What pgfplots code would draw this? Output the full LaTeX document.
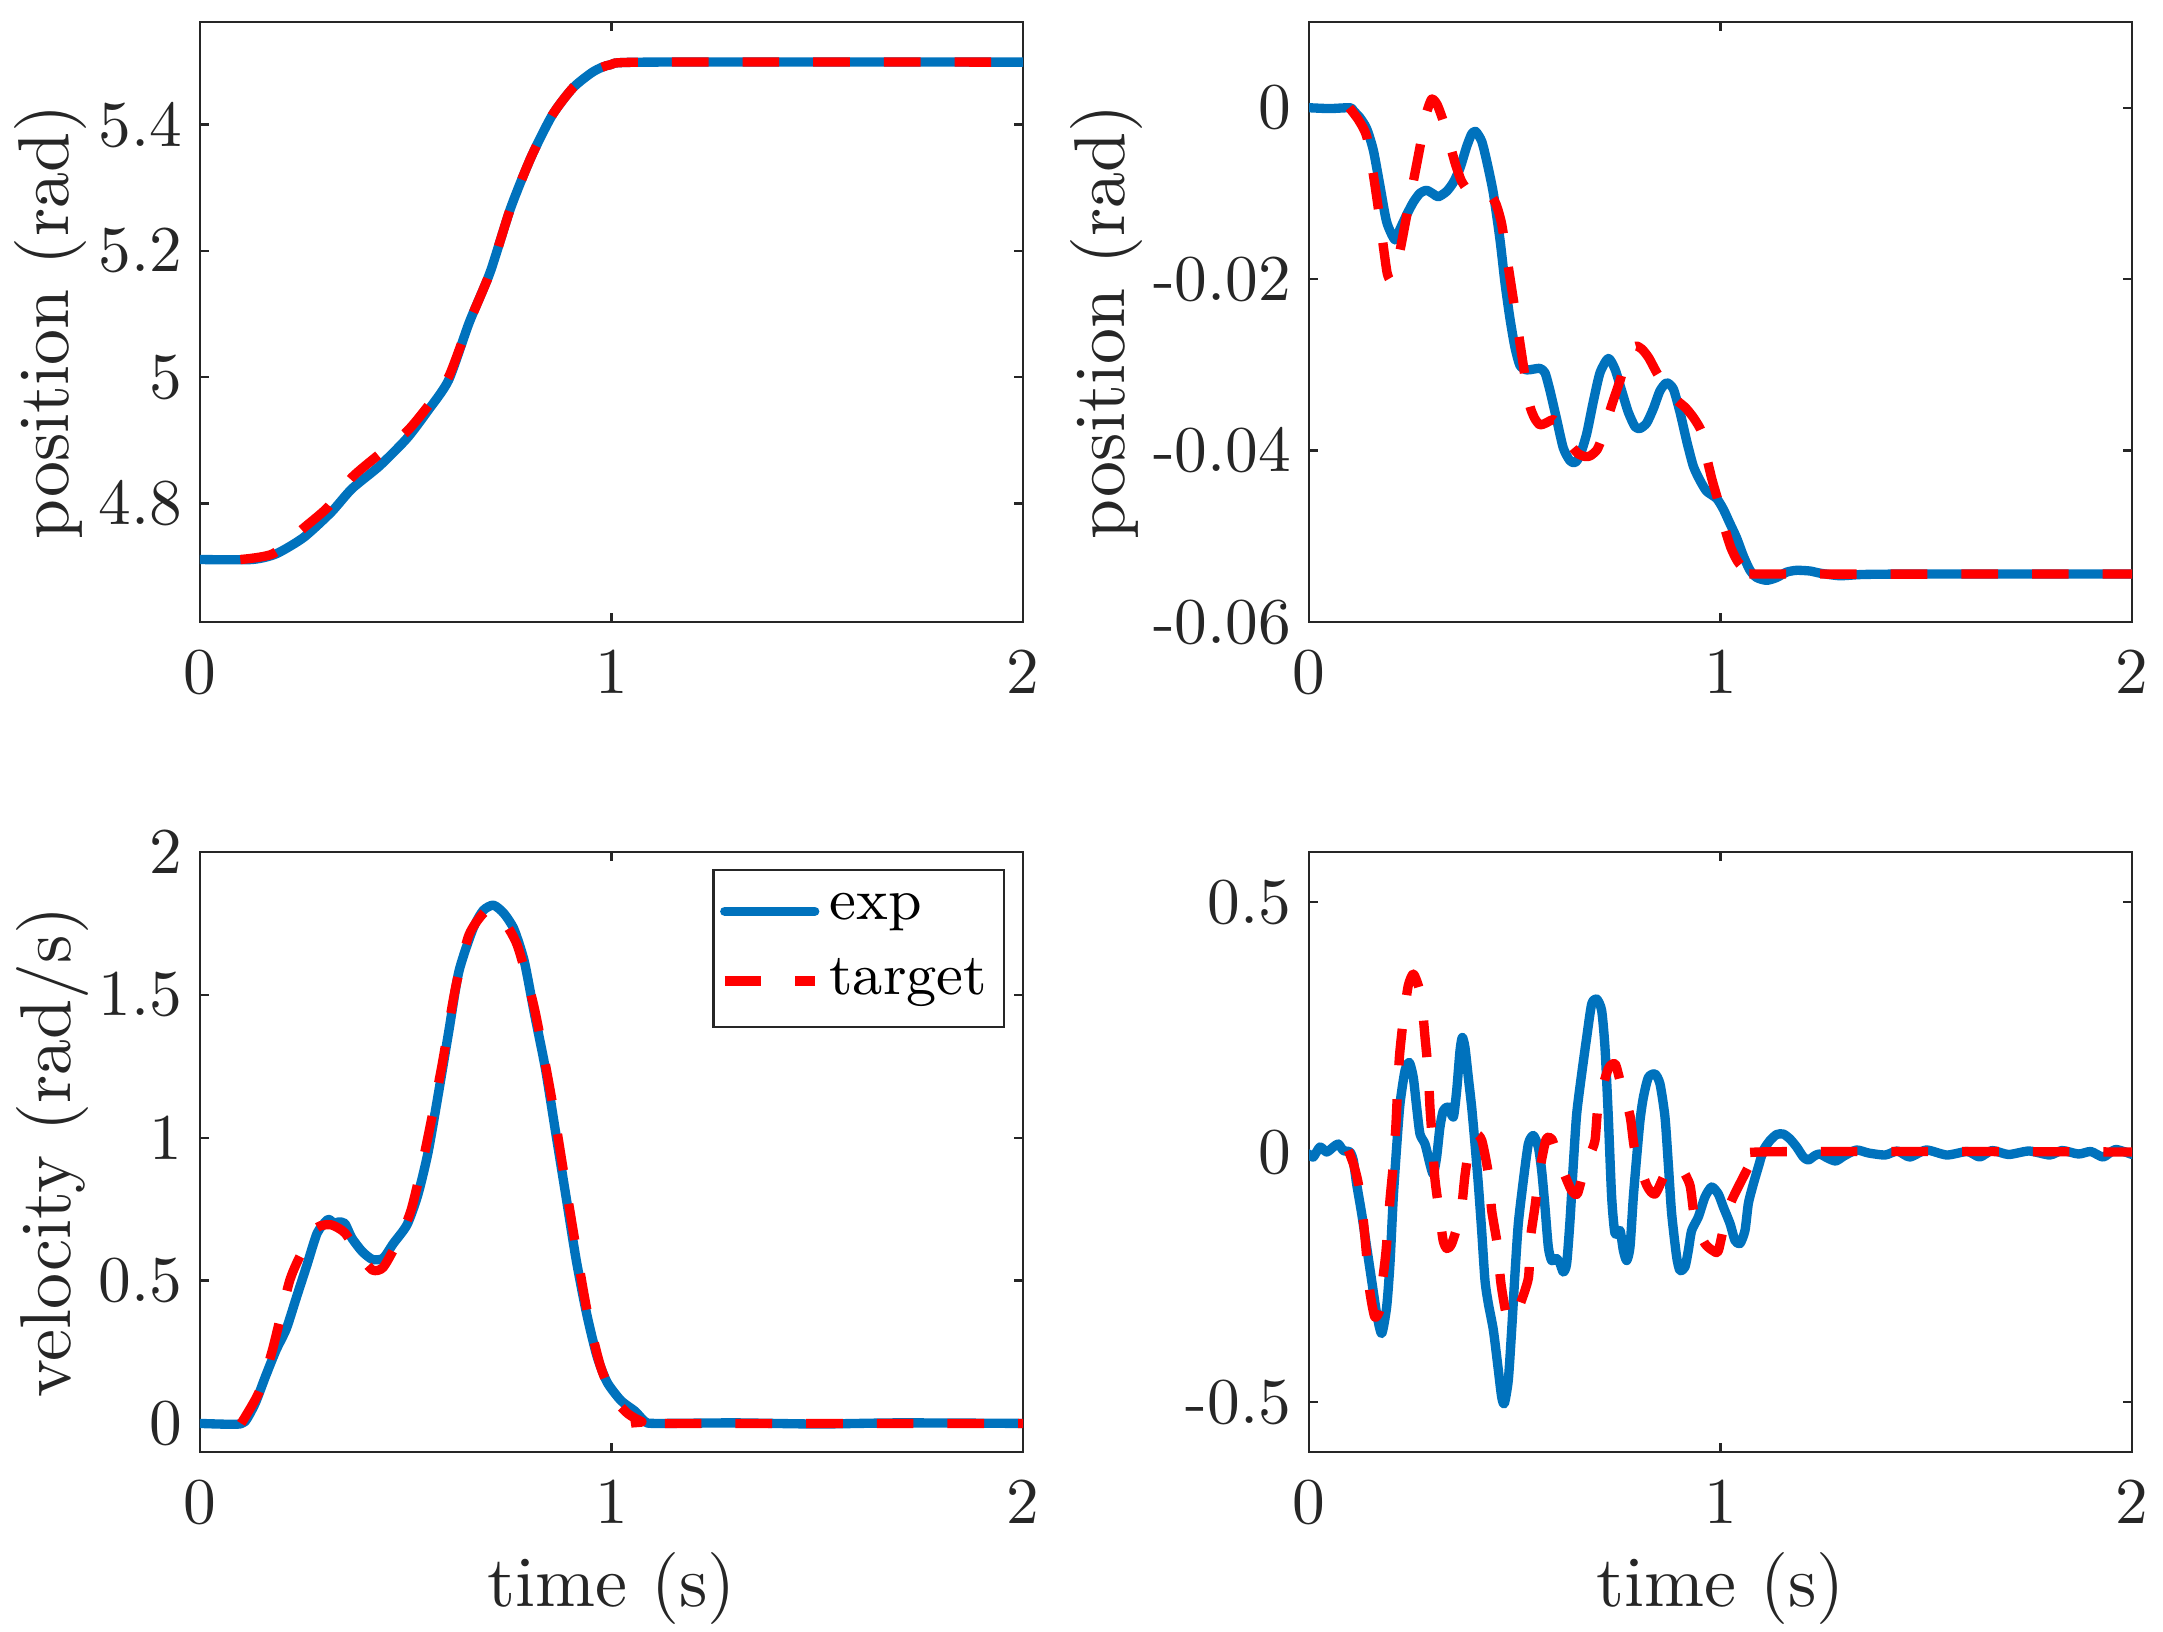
\documentclass[border=0pt]{standalone}
\usepackage{pgfplots}
\pgfplotsset{compat=1.18}
\definecolor{mblue}{rgb}{0,0.447,0.741}
\definecolor{tgray}{rgb}{0.15,0.15,0.15}
\pgfplotsset{
  myax/.style={scale only axis, width=123.45pt, height=90pt,
    xmin=0, xmax=2, xtick={0,1,2}, xticklabels={0,1,2},
    scaled x ticks=false, scaled y ticks=false,
    tick align=inside, major tick length=1.3pt,
    axis line style={draw=tgray, line width=0.35pt},
    tick style={draw=tgray, line width=0.35pt},
    tick label style={font=\fontsize{9.8}{11}\selectfont, text=tgray},
    xticklabel style={inner ysep=4pt},
    yticklabel style={inner xsep=2.5pt},
    every axis x label/.style={at={(axis description cs:0.5,0)}, anchor=north, inner sep=0pt, yshift=-14.8pt, font=\fontsize{10.8}{13}\selectfont, text=tgray},
    every axis y label/.style={rotate=90, anchor=south, inner sep=0pt, font=\fontsize{10.8}{13}\selectfont, text=tgray},
  },
  expl/.style={color=mblue, line width=1.4pt, line join=round, line cap=round, smooth, tension=0.4},
  tgtl/.style={color=red, line width=1.4pt, line join=round, dash pattern=on 5.5pt off 5.1pt, smooth, tension=0.4},
}
\begin{document}
\begin{tikzpicture}
\useasboundingbox (0,0) rectangle (324.45pt,244.65pt);
% top left
\begin{axis}[myax, at={(30pt,151.35pt)}, anchor=south west,
  ymin=4.612, ymax=5.5625, ytick={4.8,5,5.2,5.4}, yticklabels={4.8,5,5.2,5.4},
  ylabel={position (rad)}, ylabel style={at={(axis description cs:-0.136,0.5)}}]
\addplot[expl] coordinates {
(0,4.711) (0.126,4.711) (0.185,4.720) (0.252,4.746) (0.319,4.786) (0.369,4.823)
(0.436,4.859) (0.503,4.903) (0.554,4.947) (0.604,4.995) (0.654,5.086) (0.705,5.166)
(0.755,5.268) (0.805,5.349) (0.856,5.415) (0.906,5.458) (0.956,5.484) (0.998,5.495)
(1.09,5.499) (2,5.499)};
\addplot[tgtl] coordinates {
(0.098,4.711) (0.177,4.720) (0.252,4.761) (0.311,4.794) (0.369,4.841) (0.436,4.878)
(0.503,4.914) (0.554,4.954) (0.604,5.0) (0.654,5.086) (0.705,5.166)
(0.755,5.268) (0.805,5.349) (0.856,5.415) (0.906,5.458) (0.956,5.484) (0.998,5.495)
(1.09,5.499) (2,5.499)};
\end{axis}
% top right
\begin{axis}[myax, at={(196.35pt,151.35pt)}, anchor=south west,
  ymin=-0.06, ymax=0.01, ytick={-0.06,-0.04,-0.02,0}, yticklabels={-0.06,-0.04,-0.02,0},
  ylabel={position (rad)}, ylabel style={at={(axis description cs:-0.2005,0.5)}}]
\addplot[expl] coordinates {
(0,0) (0.05,-0.0001) (0.1,0) (0.1077,-0.00034) (0.1239,-0.00117) (0.1401,-0.00243)
(0.1563,-0.00494) (0.1725,-0.00913) (0.1887,-0.01332) (0.209,-0.01542) (0.2211,-0.01416)
(0.2373,-0.01249) (0.2535,-0.01102) (0.2697,-0.00997) (0.2859,-0.00964) (0.3021,-0.01006)
(0.3143,-0.01039) (0.3345,-0.00976) (0.3507,-0.00872) (0.3670,-0.00704) (0.3832,-0.00453)
(0.3953,-0.00306) (0.4050,-0.00277) (0.4196,-0.00390) (0.4318,-0.00620) (0.4480,-0.00997)
(0.4642,-0.01542) (0.4763,-0.02045) (0.4885,-0.02464) (0.5006,-0.02799) (0.5128,-0.03008)
(0.5290,-0.03059) (0.5452,-0.03050) (0.5614,-0.03042) (0.5735,-0.03092) (0.5857,-0.03302)
(0.6019,-0.03637) (0.6181,-0.03972) (0.6343,-0.04119) (0.6464,-0.04140) (0.6586,-0.04056)
(0.6748,-0.03805) (0.6910,-0.03427) (0.7072,-0.03092) (0.7274,-0.02925) (0.7436,-0.03050)
(0.7598,-0.03302) (0.7760,-0.03553) (0.7922,-0.03721) (0.8044,-0.03742) (0.8206,-0.03679)
(0.8368,-0.03511) (0.8530,-0.03302) (0.8692,-0.03210) (0.8854,-0.03281) (0.9016,-0.03553)
(0.9178,-0.03888) (0.9340,-0.04182) (0.9502,-0.04349) (0.9664,-0.04475) (0.9907,-0.04559)
(1.0069,-0.04684) (1.0231,-0.04852) (1.0393,-0.05020) (1.0555,-0.05229) (1.0717,-0.05397)
(1.0879,-0.05481) (1.1122,-0.05514) (1.1365,-0.05481) (1.1608,-0.05418) (1.1851,-0.05397)
(1.2175,-0.05405) (1.2418,-0.05430) (1.29,-0.05460) (1.35,-0.05445) (1.5,-0.05440) (2,-0.05440)};
\addplot[tgtl] coordinates {
(0.098,0) (0.12,-0.0014) (0.14,-0.0033) (0.156,-0.0077) (0.168,-0.0116) (0.181,-0.0163)
(0.190,-0.0193) (0.198,-0.0201) (0.209,-0.0190) (0.221,-0.0167) (0.237,-0.0127)
(0.254,-0.0085) (0.270,-0.0045) (0.282,-0.0012) (0.298,0.0010) (0.312,0.0003)
(0.328,-0.0018) (0.342,-0.0042) (0.356,-0.0066) (0.370,-0.0085) (0.387,-0.0097)
(0.405,-0.0100) (0.425,-0.0098) (0.440,-0.0101) (0.455,-0.0113) (0.468,-0.0135)
(0.480,-0.0172) (0.497,-0.0225) (0.509,-0.0263) (0.521,-0.0301) (0.535,-0.0345)
(0.548,-0.0362) (0.561,-0.0370) (0.575,-0.0368) (0.595,-0.0364) (0.615,-0.0375)
(0.635,-0.0393) (0.655,-0.0404) (0.672,-0.0407) (0.684,-0.0406) (0.700,-0.0399)
(0.712,-0.0385) (0.727,-0.0360) (0.742,-0.0338) (0.756,-0.0318) (0.770,-0.0295)
(0.785,-0.0281) (0.796,-0.0278) (0.810,-0.0282) (0.826,-0.0292) (0.845,-0.0309)
(0.870,-0.0328) (0.893,-0.0341) (0.915,-0.0350) (0.935,-0.0362) (0.954,-0.0378)
(0.965,-0.0405) (0.980,-0.0435) (0.995,-0.0460) (1.010,-0.0490) (1.025,-0.0513)
(1.040,-0.0528) (1.055,-0.0537) (1.075,-0.0542) (1.10,-0.0544) (2,-0.0544)};
\end{axis}
% bottom left
\begin{axis}[myax, at={(30pt,26.85pt)}, anchor=south west,
  ymin=-0.1, ymax=2, ytick={0,0.5,1,1.5,2}, yticklabels={0,0.5,1,1.5,2},
  xlabel={time (s)}, ylabel={velocity (rad/s)}, ylabel style={at={(axis description cs:-0.1337,0.5)}},
  legend style={at={(0.978,0.9717)}, anchor=north east, draw=tgray, line width=0.35pt,
    font=\fontsize{8.8}{10}\selectfont, text=black, inner xsep=1pt, inner ysep=1.3pt,
    nodes={inner xsep=1.5pt, inner ysep=2.15pt, text depth=0.15em}},
  legend cell align=left,
  legend image code/.code={\draw[#1, sharp plot] (0pt,0pt) -- (13.5pt,0pt);}]
\addplot[expl] coordinates {
(0,0) (0.084,-0.003) (0.109,0.006) (0.134,0.07) (0.159,0.164) (0.185,0.257) (0.210,0.332)
(0.235,0.444) (0.260,0.555) (0.285,0.667) (0.311,0.714) (0.325,0.70) (0.336,0.705) (0.352,0.700)
(0.369,0.649) (0.394,0.602) (0.419,0.574) (0.445,0.578) (0.470,0.630) (0.503,0.695)
(0.529,0.798) (0.554,0.947) (0.579,1.152) (0.605,1.376) (0.629,1.581) (0.663,1.730)
(0.688,1.795) (0.713,1.814) (0.738,1.786) (0.763,1.730) (0.788,1.618) (0.813,1.432)
(0.839,1.245) (0.864,1.021) (0.889,0.798) (0.914,0.574) (0.939,0.388) (0.964,0.239)
(0.989,0.145) (1.023,0.080) (1.057,0.043) (1.082,0.006) (1.107,0) (1.3,0.002) (1.5,-0.002) (1.7,0.002) (2,0)};
\addlegendentry{exp}
\addplot[tgtl] coordinates {
(0.1,0) (0.143,0.108) (0.176,0.257) (0.218,0.5) (0.252,0.611) (0.285,0.686) (0.319,0.695)
(0.352,0.667) (0.386,0.593) (0.419,0.537) (0.445,0.546) (0.478,0.630) (0.512,0.742)
(0.546,0.947) (0.587,1.245) (0.621,1.525) (0.654,1.711) (0.696,1.795) (0.729,1.776)
(0.771,1.674) (0.813,1.450) (0.855,1.133) (0.897,0.760) (0.939,0.406) (0.973,0.201)
(1.006,0.089) (1.040,0.034) (1.074,0.006) (1.098,0) (2,0)};
\addlegendentry{target}
\end{axis}
% bottom right
\begin{axis}[myax, at={(196.35pt,26.85pt)}, anchor=south west,
  ymin=-0.6, ymax=0.6, ytick={-0.5,0,0.5}, yticklabels={-0.5,0,0.5},
  xlabel={time (s)}]
\addplot[expl] coordinates {
(0,-0.004) (0.0105,-0.010) (0.0267,0.010) (0.0429,0.000) (0.0591,0.010) (0.0713,0.016)
(0.0834,0.003) (0.0996,0.000) (0.1077,-0.017) (0.1158,-0.064) (0.1280,-0.123) (0.1401,-0.190)
(0.1523,-0.257) (0.1644,-0.323) (0.1766,-0.363) (0.1887,-0.310) (0.1968,-0.223) (0.2049,-0.090)
(0.2130,0.010) (0.2211,0.096) (0.2333,0.163) (0.2438,0.179) (0.2535,0.149) (0.2616,0.090)
(0.2697,0.036) (0.2819,0.016) (0.2940,-0.024) (0.3021,-0.044) (0.3102,-0.010) (0.3183,0.050)
(0.3265,0.083) (0.3386,0.090) (0.3507,0.070) (0.3589,0.123) (0.3670,0.203) (0.3726,0.229)
(0.3791,0.209) (0.3872,0.149) (0.3953,0.090) (0.4034,0.016) (0.4115,-0.064) (0.4196,-0.157)
(0.4277,-0.257) (0.4358,-0.303) (0.4480,-0.356) (0.4601,-0.436) (0.4682,-0.490) (0.4747,-0.503)
(0.4844,-0.456) (0.4925,-0.356) (0.5006,-0.243) (0.5087,-0.143) (0.5209,-0.057) (0.5330,0.016)
(0.5452,0.033) (0.5573,0.010) (0.5654,-0.037) (0.5735,-0.110) (0.5816,-0.190) (0.5897,-0.217)
(0.6019,-0.213) (0.6100,-0.223) (0.6181,-0.240) (0.6262,-0.223) (0.6343,-0.137) (0.6424,-0.024)
(0.6505,0.076) (0.6626,0.156) (0.6748,0.229) (0.6869,0.296) (0.6991,0.306) (0.7112,0.283)
(0.7193,0.209) (0.7274,0.070) (0.7355,-0.090) (0.7436,-0.163) (0.7558,-0.157) (0.7639,-0.197)
(0.7720,-0.217) (0.7801,-0.190) (0.7882,-0.090) (0.7963,-0.010) (0.8044,0.063) (0.8125,0.109)
(0.8246,0.149) (0.8408,0.156) (0.8530,0.136) (0.8651,0.070) (0.8732,-0.024) (0.8813,-0.123)
(0.8935,-0.210) (0.9016,-0.237) (0.9137,-0.230) (0.9218,-0.197) (0.9299,-0.157) (0.9461,-0.130)
(0.9623,-0.090) (0.9785,-0.070) (0.9947,-0.084) (1.0069,-0.110) (1.0231,-0.143) (1.0352,-0.177)
(1.0474,-0.183) (1.0595,-0.157) (1.0677,-0.103) (1.0798,-0.064) (1.0919,-0.030) (1.1041,0.003)
(1.1203,0.023) (1.1365,0.035) (1.1527,0.036) (1.1689,0.026) (1.1851,0.010) (1.2013,-0.010)
(1.2135,-0.016) (1.2297,-0.007) (1.2418,-0.004) (1.26,-0.012) (1.28,-0.018) (1.30,-0.008)
(1.33,0.004) (1.36,-0.002) (1.40,-0.006) (1.43,0.002) (1.46,-0.010) (1.50,0.004) (1.55,-0.006)
(1.60,0.001) (1.63,-0.010) (1.66,0.003) (1.70,-0.005) (1.75,0.002) (1.80,-0.006) (1.83,0.003)
(1.87,-0.004) (1.90,0.001) (1.93,-0.010) (1.96,0.005) (2,-0.005)};
\addplot[tgtl] coordinates {
(0.0956,0.003) (0.108,-0.024) (0.12,-0.064) (0.132,-0.137) (0.140,-0.207) (0.148,-0.280)
(0.160,-0.330) (0.1725,-0.315) (0.177,-0.270) (0.187,-0.200) (0.197,-0.094) (0.205,-0.024)
(0.211,0.050) (0.215,0.120) (0.220,0.193) (0.229,0.263) (0.241,0.332) (0.2535,0.356)
(0.266,0.332) (0.274,0.302) (0.282,0.229) (0.290,0.159) (0.294,0.089) (0.300,0.020)
(0.306,-0.054) (0.317,-0.123) (0.326,-0.177) (0.335,-0.193) (0.347,-0.183) (0.369,-0.122)
(0.379,-0.047) (0.391,0.016) (0.405,0.036) (0.420,0.023) (0.436,-0.044) (0.444,-0.117)
(0.458,-0.187) (0.466,-0.260) (0.479,-0.323) (0.4925,-0.338) (0.506,-0.320) (0.533,-0.253)
(0.537,-0.180) (0.549,-0.110) (0.560,-0.040) (0.576,0.025) (0.590,0.026) (0.606,-0.014)
(0.622,-0.047) (0.638,-0.077) (0.652,-0.084) (0.667,-0.040) (0.681,-0.009) (0.695,0.023)
(0.703,0.096) (0.727,0.166) (0.744,0.176) (0.757,0.139) (0.780,0.073) (0.792,0.003)
(0.821,-0.067) (0.841,-0.084) (0.865,-0.044) (0.885,-0.024) (0.906,-0.034) (0.926,-0.067)
(0.938,-0.137) (0.962,-0.183) (0.983,-0.198) (0.995,-0.197) (1.015,-0.123) (1.031,-0.090)
(1.051,-0.057) (1.072,-0.024) (1.092,0) (2,0)};
\end{axis}
\end{tikzpicture}
\end{document}
